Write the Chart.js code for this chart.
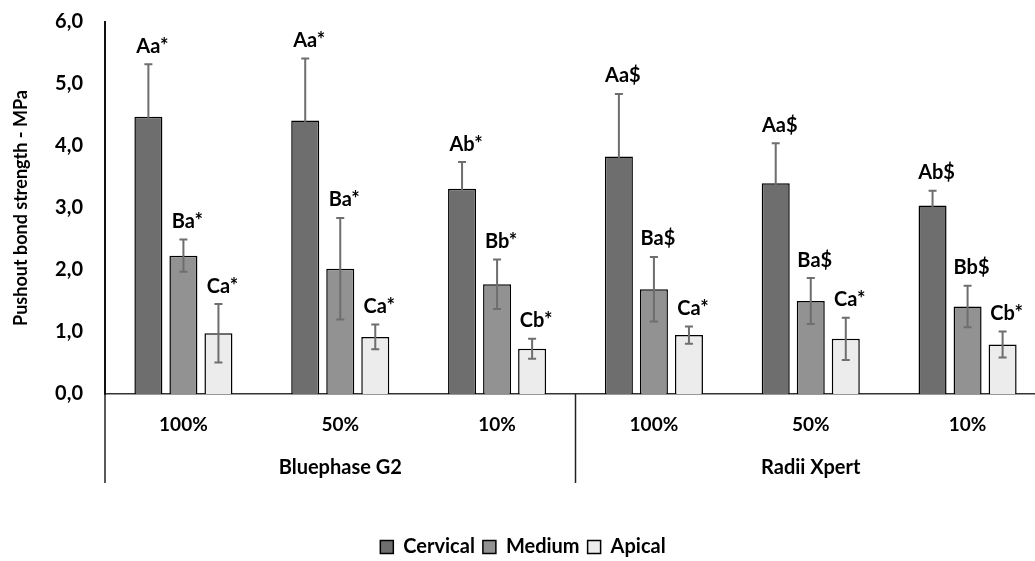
<!DOCTYPE html>
<html>
<head>
<meta charset="utf-8">
<script src="https://cdn.jsdelivr.net/npm/chart.js@4/dist/chart.umd.min.js"></script>
<style>
  html, body { margin: 0; padding: 0; background: #fff; overflow: hidden; }
  #wrap { width: 1035px; height: 561px; overflow: hidden; }
</style>
</head>
<body>
<div id="wrap"><canvas id="bondChart" width="1050" height="561"></canvas></div>
<script>
// categories (light intensity) and their lamp groups
const intensities = ['100%', '50%', '10%', '100%', '50%', '10%'];
const lamps = ['Bluephase G2', 'Radii Xpert'];

// mean pushout bond strength (MPa) per root third
const cervical = [4.47, 4.41, 3.31, 3.83, 3.40, 3.04];
const medium = [2.23, 2.02, 1.77, 1.69, 1.50, 1.41];
const apical = [0.98, 0.92, 0.73, 0.95, 0.89, 0.80];

// standard deviations
const cervicalSd = [0.85, 1.00, 0.43, 1.01, 0.645, 0.24];
const mediumSd = [0.26, 0.82, 0.40, 0.52, 0.37, 0.335];
const apicalSd = [0.47, 0.20, 0.16, 0.14, 0.34, 0.21];

// statistical letters above each bar
const cervicalTags = ['Aa*', 'Aa*', 'Ab*', 'Aa$', 'Aa$', 'Ab$'];
const mediumTags = ['Ba*', 'Ba*', 'Bb*', 'Ba$', 'Ba$', 'Bb$'];
const apicalTags = ['Ca*', 'Ca*', 'Cb*', 'Ca*', 'Ca*', 'Cb*'];

const yTicks = [0, 1, 2, 3, 4, 5, 6];

const FONT = 'Lato, "Open Sans", sans-serif';

// error bars + letters
const errorBarPlugin = {
    id: 'errorBars',
    afterDatasetsDraw(chart) {
        const ctx = chart.ctx;
        const yScale = chart.scales.y;
        chart.data.datasets.forEach((ds, i) => {
            const meta = chart.getDatasetMeta(i);
            meta.data.forEach((bar, j) => {
                const v = ds.data[j];
                const sd = ds.sd[j];
                const yHi = yScale.getPixelForValue(v + sd);
                const yLo = yScale.getPixelForValue(v - sd);
                ctx.save();
                ctx.strokeStyle = '#6e6e6e';
                ctx.lineWidth = 2;
                ctx.beginPath();
                ctx.moveTo(bar.x, yHi);
                ctx.lineTo(bar.x, yLo);
                ctx.moveTo(bar.x - 4, yHi);
                ctx.lineTo(bar.x + 4, yHi);
                ctx.moveTo(bar.x - 4, yLo);
                ctx.lineTo(bar.x + 4, yLo);
                ctx.stroke();
                ctx.fillStyle = '#000';
                ctx.font = 'bold 20px ' + FONT;
                ctx.textAlign = 'center';
                ctx.textBaseline = 'bottom';
                ctx.fillText(ds.tags[j], bar.x + 4, yHi - 8);
                ctx.restore();
            });
        });
    }
};

// two-level category axis: group names and separators
const groupAxisPlugin = {
    id: 'groupAxis',
    afterDraw(chart) {
        const ctx = chart.ctx;
        const x = chart.scales.x;
        const area = chart.chartArea;
        const bottom = area.bottom + 89;
        const per = intensities.length / lamps.length;
        const step = x.getPixelForValue(1) - x.getPixelForValue(0);
        ctx.save();
        ctx.strokeStyle = '#222';
        ctx.lineWidth = 1.5;
        const edges = [];
        for (let g = 0; g <= lamps.length; g++) {
            const idx = g * per;
            const px = idx === 0 ? area.left : x.getPixelForValue(idx - 1) + step / 2;
            edges.push(px);
            ctx.beginPath();
            ctx.moveTo(px, area.bottom);
            ctx.lineTo(px, bottom);
            ctx.stroke();
        }
        ctx.fillStyle = '#000';
        ctx.font = 'bold 20px ' + FONT;
        ctx.textAlign = 'center';
        ctx.textBaseline = 'middle';
        lamps.forEach((name, g) => {
            ctx.fillText(name, (edges[g] + edges[g + 1]) / 2, area.bottom + 74);
        });
        ctx.restore();
    }
};

const ctx = document.getElementById('bondChart').getContext('2d');
const bondChart = new Chart(ctx, {
    type: 'bar',
    data: {
        labels: intensities,
        datasets: [
            { label: 'Cervical', data: cervical, sd: cervicalSd, tags: cervicalTags,
              backgroundColor: '#6e6e6e', borderColor: '#000', borderWidth: 1.5 },
            { label: 'Medium', data: medium, sd: mediumSd, tags: mediumTags,
              backgroundColor: '#929292', borderColor: '#000', borderWidth: 1.5 },
            { label: 'Apical', data: apical, sd: apicalSd, tags: apicalTags,
              backgroundColor: '#ececec', borderColor: '#000', borderWidth: 1.5 }
        ]
    },
    options: {
        responsive: false,
        animation: false,
        layout: { padding: { top: 22, right: 4, bottom: -6, left: 0 } },
        datasets: {
            bar: { categoryPercentage: 0.67, barPercentage: 0.8 }
        },
        plugins: {
            legend: {
                position: 'bottom',
                labels: {
                    boxWidth: 13,
                    boxHeight: 13,
                    padding: 8,
                    color: '#000',
                    font: { family: FONT, size: 20, weight: 'bold' }
                }
            },
            tooltip: { enabled: false }
        },
        scales: {
            x: {
                grid: { display: false, drawTicks: false },
                border: { color: '#333', width: 1.5 },
                ticks: {
                    padding: 19,
                    color: '#000',
                    font: { family: FONT, size: 19, weight: 'bold' }
                },
                afterFit: scale => { scale.height = 135; }
            },
            y: {
                min: 0,
                max: 6,
                afterBuildTicks: scale => { scale.ticks = yTicks.map(v => ({ value: v })); },
                grid: { display: false, drawTicks: false },
                border: { color: '#111', width: 2 },
                ticks: {
                    padding: 22,
                    color: '#000',
                    font: { family: FONT, size: 20, weight: 'bold' },
                    callback: v => v.toFixed(1).replace('.', ',')
                },
                title: {
                    display: true,
                    text: 'Pushout bond strength - MPa',
                    color: '#000',
                    padding: { top: 10, bottom: 0 },
                    font: { family: FONT, size: 18, weight: 'bold' }
                },
                afterFit: scale => {
                    scale.width = 105;
                    // tick padding must not push the plot area down
                    scale.paddingTop = 0;
                    scale.paddingBottom = 0;
                }
            }
        }
    },
    plugins: [errorBarPlugin, groupAxisPlugin]
});
</script>
</body>
</html>
